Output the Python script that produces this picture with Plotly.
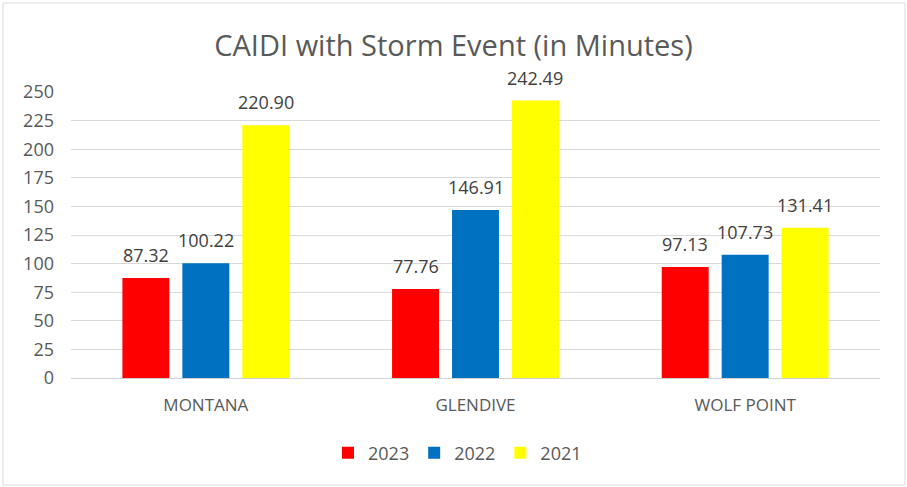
import plotly.graph_objects as go

categories = ["MONTANA", "GLENDIVE", "WOLF POINT"]
years = ["2023", "2022", "2021"]
v2023 = [87.32, 77.76, 97.13]
v2022 = [100.22, 146.91, 107.73]
v2021 = [220.90, 242.49, 131.41]
colors = ["#FF0000", "#0070C0", "#FFFF00"]
y_ticks = [0, 25, 50, 75, 100, 125, 150, 175, 200, 225, 250]

FONT = "Open Sans"
TXT = "#595959"

W, H = 907, 487
L, R, T, B = 71, 27, 92, 109
pw, ph = W - L - R, H - T - B
BARGAP, BARGROUPGAP = 0.333, 0.217
pitch = pw / len(categories) * (1 - BARGAP) / len(years)

def px(x):
    return (x - L) / pw

def py(y):
    return (H - B - y) / ph

fig = go.Figure()
annotations = []
for i, (name, vals, c) in enumerate(zip(years, [v2023, v2022, v2021], colors)):
    fig.add_trace(go.Bar(
        x=categories, y=vals, name=name, marker=dict(color=c, line=dict(width=0)),
        cliponaxis=False, hoverinfo="x+y+name",
    ))
    for cat, v in zip(categories, vals):
        annotations.append(dict(
            x=cat, y=v, xref="x", yref="y", text=f"{v:.2f}", showarrow=False,
            xanchor="center", yanchor="bottom", yshift=9,
            xshift=(i - (len(years) - 1) / 2) * pitch,
            font=dict(family=FONT, size=18, color="#404040"),
        ))

fig.update_layout(
    width=W, height=H,
    margin=dict(l=L, r=R, t=T, b=B),
    paper_bgcolor="white", plot_bgcolor="white",
    barmode="group", bargap=BARGAP, bargroupgap=BARGROUPGAP,
    title=dict(text="CAIDI with Storm Event (in Minutes)", x=0.5, xanchor="center",
               y=1 - 46 / H, yanchor="middle",
               font=dict(family=FONT, size=29, color=TXT)),
    font=dict(family=FONT, color=TXT),
    yaxis=dict(range=[0, 250], tickvals=y_ticks, showgrid=True, gridcolor="#D9D9D9",
               gridwidth=1, zeroline=False, tickfont=dict(family=FONT, size=18, color=TXT),
               ticks="", ticklabelstandoff=16, fixedrange=True),
    xaxis=dict(showline=True, linecolor="#D0D0D0", linewidth=1,
               tickfont=dict(family=FONT, size=17, color=TXT), ticks="",
               ticklabelstandoff=12),
    legend=dict(orientation="h", x=0.5 - 18 / pw, xanchor="center", y=py(453), yanchor="middle",
                font=dict(family=FONT, size=18, color=TXT), itemwidth=30,
                traceorder="normal"),
    showlegend=True,
    annotations=annotations,
    shapes=[dict(type="rect", xref="paper", yref="paper",
                 x0=px(3), x1=px(905), y0=py(485), y1=py(3),
                 line=dict(color="#D9D9D9", width=1), fillcolor="rgba(0,0,0,0)", layer="below")],
)

fig.write_html("out.html", config={"displayModeBar": False},
               post_script="document.body.style.margin='0';")
